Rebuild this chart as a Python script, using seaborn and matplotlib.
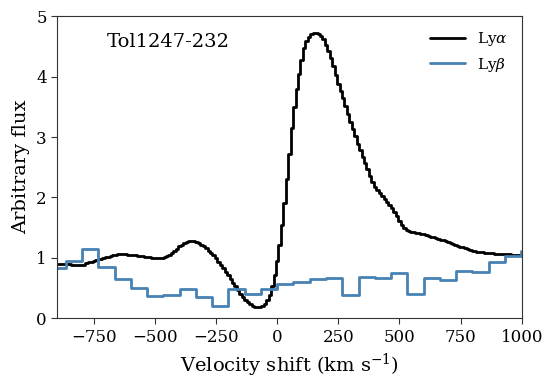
import numpy as np
import matplotlib
matplotlib.use("Agg")
import matplotlib.pyplot as plt
import seaborn as sns

# Ly-alpha profile, 10 km/s pixels from -900 to 1000 km/s
lya_vel = np.arange(-900, 1001, 10)
lya_flux = [
    0.90, 0.899, 0.898, 0.896, 0.894, 0.891, 0.887, 0.883, 0.879, 0.876,
    0.878, 0.89, 0.908, 0.924, 0.94, 0.953, 0.964, 0.975, 0.985, 0.995,
    1.007, 1.018, 1.03, 1.042, 1.052, 1.058, 1.062, 1.062, 1.059, 1.055,
    1.05, 1.045, 1.04, 1.035, 1.03, 1.025, 1.02, 1.015, 1.01, 1.005,
    1.0, 0.998, 0.997, 1.0, 1.012, 1.03, 1.055, 1.085, 1.12, 1.155,
    1.19, 1.22, 1.245, 1.262, 1.272, 1.278, 1.276, 1.265, 1.245, 1.22,
    1.19, 1.157, 1.12, 1.08, 1.04, 0.99, 0.94, 0.885, 0.83, 0.77,
    0.71, 0.65, 0.59, 0.53, 0.47, 0.41, 0.355, 0.31, 0.27, 0.235,
    0.21, 0.195, 0.19, 0.195, 0.21, 0.245, 0.30, 0.39, 0.53, 0.72,
    0.95, 1.22, 1.55, 1.90, 2.30, 2.72, 3.15, 3.50, 3.80, 4.05,
    4.28, 4.48, 4.59, 4.66, 4.70, 4.72, 4.72, 4.70, 4.67, 4.62,
    4.53, 4.42, 4.30, 4.17, 4.02, 3.88, 3.76, 3.64, 3.51, 3.38,
    3.25, 3.13, 3.01, 2.89, 2.78, 2.67, 2.57, 2.47, 2.36, 2.26,
    2.18, 2.12, 2.07, 2.03, 1.98, 1.93, 1.88, 1.82, 1.76, 1.69,
    1.61, 1.55, 1.50, 1.465, 1.445, 1.432, 1.423, 1.416, 1.408, 1.40,
    1.39, 1.378, 1.365, 1.352, 1.34, 1.328, 1.316, 1.304, 1.291, 1.277,
    1.262, 1.247, 1.232, 1.217, 1.202, 1.187, 1.172, 1.158, 1.145, 1.133,
    1.122, 1.112, 1.104, 1.097, 1.091, 1.086, 1.081, 1.077, 1.073, 1.070,
    1.067, 1.065, 1.063, 1.061, 1.059, 1.057, 1.055, 1.052, 1.049, 1.046,
    1.044,
]

# Ly-beta, coarse bins of 66.5 km/s
lyb_edges = np.arange(-14, 17) * 66.5
lyb_flux = [
    0.83, 0.955, 1.15, 0.855, 0.65, 0.51, 0.37, 0.38, 0.48, 0.355,
    0.205, 0.49, 0.395, 0.48, 0.567, 0.605, 0.65, 0.66, 0.383, 0.69,
    0.667, 0.755, 0.41, 0.66, 0.633, 0.79, 0.767, 0.94, 1.03, 1.12,
]

sns.set_style("ticks", {"axes.edgecolor": "0.2", "text.color": "black",
                        "axes.labelcolor": "black", "xtick.color": "0.2",
                        "ytick.color": "0.2"})
plt.rcParams["font.family"] = ["DejaVu Serif"]
plt.rcParams["mathtext.fontset"] = "dejavuserif"

fig = plt.figure(figsize=(5.55, 3.84), dpi=100)
ax = fig.add_axes([0.103, 0.171, 0.837, 0.787])

sns.lineplot(x=lya_vel, y=lya_flux, ax=ax, color="black", lw=2,
             drawstyle="steps-mid", label=r"Ly$\alpha$")
sns.lineplot(x=lyb_edges, y=lyb_flux + [lyb_flux[-1]], ax=ax, color="#4682b4",
             lw=2, drawstyle="steps-post", label=r"Ly$\beta$")

ax.set_xlim(-900, 1000)
ax.set_ylim(0, 5)
ax.set_xticks([-750, -500, -250, 0, 250, 500, 750, 1000])
ax.tick_params(labelsize=12, labelcolor="black", direction="out", length=4)
ax.set_xlabel(r"Velocity shift (km s$^{-1}$)", fontsize=14)
ax.set_ylabel("Arbitrary flux", fontsize=14)
ax.text(0.107, 0.914, "Tol1247-232", transform=ax.transAxes, fontsize=14,
        va="center")
ax.legend(loc="upper right", frameon=False, fontsize=11, handlelength=2.3)

fig.savefig("out.png", dpi=100)
